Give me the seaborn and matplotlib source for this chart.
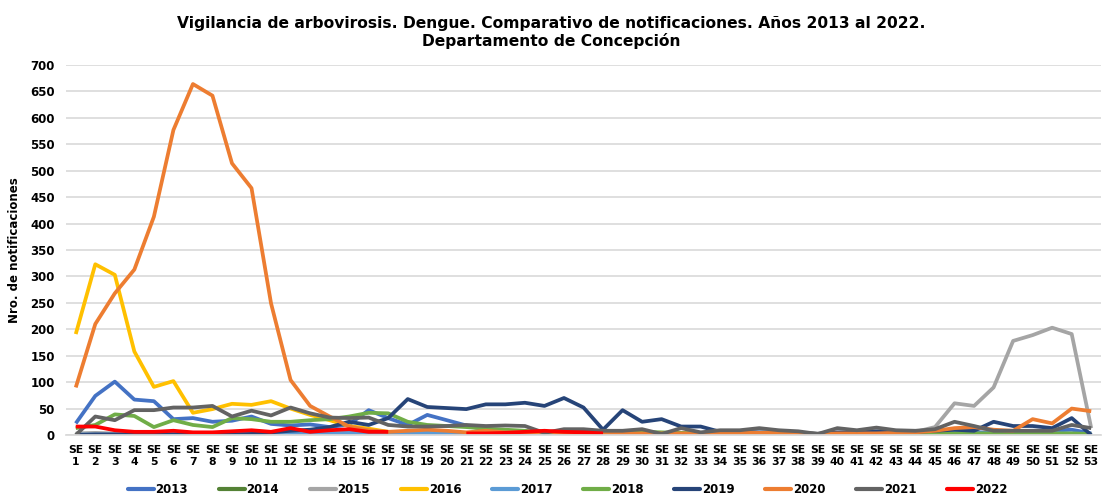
import numpy as np
import pandas as pd
import matplotlib
matplotlib.use("Agg")
import matplotlib.pyplot as plt
from matplotlib.lines import Line2D
import seaborn as sns

nan = np.nan

# epidemiological weeks 1..53
weeks = list(range(1, 54))
week_labels = [f"SE\n{w}" for w in weeks]

y2013 = [22, 74, 101, 67, 64, 30, 32, 25, 27, 35, 21, 18, 20, 15, 20, 47, 32, 19, 38, 28,
         18, 10, 8, 5, 4, 3, 3, 2, 2, 3, 2, 2, 2, 2, 2, 2, 2, 2, 2, 3,
         3, 3, 3, 3, 5, 5, 5, 5, 7, 8, 8, 10, 3]
y2014 = [2, 1, 2, 1, 2, 1, 1, 2, 1, 1, 2, 1, 1, 2, 1, 2, 1, 1, 2, 1,
         1, 1, 2, 1, 1, 1, 1, 1, 1, 2, 1, 1, 1, 1, 1, 1, 1, 1, 1, 1,
         1, 1, 1, 1, 2, 2, 2, 1, 1, 2, 1, 2, 1]
y2015 = [3, 4, 3, 4, 3, 4, 3, 3, 4, 3, 3, 4, 3, 3, 4, 3, 3, 4, 3, 3,
         3, 4, 3, 3, 3, 4, 3, 3, 3, 4, 3, 3, 3, 4, 3, 3, 3, 4, 3, 4,
         4, 5, 5, 6, 15, 60, 55, 90, 178, 189, 203, 191, 13]
y2016 = [191, 323, 303, 158, 91, 102, 42, 49, 59, 57, 64, 50, 38, 28, 17, 12, 6, 5, 8, 5,
         3, 3, 3, 2, 2, 2, 2, 2, 2, 2, 2, 2, 2, 2, 2, 2, 2, 2, 2, 2,
         2, 2, 2, 2, 2, 2, 2, 2, 2, 2, 2, 2, 1]
y2017 = [1, 1, 1, 1, 2, 2, 2, 2, 3, 3, 3, 3, 3, 3, 4, 4, 4, 4, 4, 3,
         3, 3, 3, 2, 2, 2, 2, 2, 2, 2, 2, 2, 2, 2, 2, 2, 2, 2, 2, 2,
         2, 2, 2, 2, 3, 3, 3, 3, 3, 3, 3, 3, 1]
y2018 = [13, 19, 39, 36, 15, 28, 19, 15, 32, 30, 25, 25, 28, 30, 35, 42, 41, 25, 19, 17,
         15, 12, 10, 8, 5, 5, 5, 5, 5, 6, 5, 4, 3, 3, 3, 3, 3, 3, 2, 2,
         2, 2, 2, 2, 3, 3, 3, 3, 3, 3, 3, 3, 2]
y2019 = [0, 1, 1, 1, 1, 1, 1, 1, 1, 2, 5, 8, 10, 15, 25, 19, 32, 68, 53, 51,
         49, 58, 58, 61, 55, 70, 52, 10, 47, 25, 30, 16, 16, 6, 6, 5, 5, 4, 2, 5,
         5, 7, 6, 6, 8, 10, 8, 25, 17, 17, 13, 32, 0]
y2020 = [90, 210, 268, 313, 413, 577, 664, 642, 514, 467, 249, 104, 55, 35, 16, 9, 6, 8, 10, 8,
         5, 8, 5, 5, 5, 4, 4, 3, 3, 3, 3, 3, 3, 3, 4, 4, 4, 3, 2, 3,
         3, 3, 4, 5, 8, 13, 15, 10, 8, 30, 22, 50, 45]
y2021 = [0, 35, 28, 47, 47, 52, 52, 55, 35, 46, 37, 52, 41, 33, 32, 33, 19, 16, 16, 17,
         19, 17, 18, 17, 4, 11, 11, 8, 8, 11, 2, 13, 5, 9, 9, 13, 9, 7, 2, 13,
         9, 14, 9, 8, 11, 25, 17, 8, 8, 8, 8, 19, 13]
y2022 = [16, 16, 9, 6, 6, 8, 5, 5, 7, 9, 6, 13, 6, 9, 11, 6, 6, nan, nan, nan,
         3, 3, 4, 6, 8, 6, 5, 3] + [nan] * 25

years = ["2013", "2014", "2015", "2016", "2017", "2018", "2019", "2020", "2021", "2022"]
series = [y2013, y2014, y2015, y2016, y2017, y2018, y2019, y2020, y2021, y2022]
colors = ["#4472C4", "#548235", "#A5A5A5", "#FFC000", "#5B9BD5",
          "#70AD47", "#264478", "#ED7D31", "#636363", "#FF0000"]

sns.set_theme(style="white")
plt.rcParams['font.family'] = ['DejaVu Sans']
plt.rcParams.update({"text.color": "black", "axes.labelcolor": "black",
                     "xtick.color": "black", "ytick.color": "black"})

fig = plt.figure(figsize=(11.02, 4.96), dpi=100)
ax = fig.add_axes([66 / 1102, 1 - 435 / 496, 1035 / 1102, 370 / 496])

lw = 2.7
for year, vals, col in zip(years, series, colors):
    df = pd.DataFrame({"week": weeks, "n": vals})
    # split into contiguous segments so gaps stay open
    df["seg"] = df["n"].isna().cumsum()
    df = df.dropna()
    for _, part in df.groupby("seg"):
        sns.lineplot(data=part, x="week", y="n", color=col, linewidth=lw, ax=ax,
                     solid_capstyle="butt", legend=False)

ax.set_xlim(0.5, 53.5)
ax.set_ylim(0, 700)
ax.set_yticks(range(0, 701, 50))
ax.set_xticks(weeks)
ax.set_xticklabels(week_labels, fontsize=7.8, fontweight="bold", linespacing=1.3)
ax.tick_params(axis="y", labelsize=8.5, length=4, color="#D9D9D9", pad=4)
ax.tick_params(axis="x", length=0, pad=7)
for lab in ax.get_yticklabels():
    lab.set_fontweight("bold")
ax.grid(axis="y", color="#D9D9D9", linewidth=1.2)
ax.set_axisbelow(True)
for s in ["top", "right", "left"]:
    ax.spines[s].set_visible(False)
ax.spines["bottom"].set_color("#D9D9D9")
ax.set_xlabel("")
ax.set_ylabel("Nro. de notificaciones", fontsize=8.5, fontweight="bold", labelpad=7)

fig.suptitle("Vigilancia de arbovirosis. Dengue. Comparativo de notificaciones. Años 2013 al 2022.\n"
             "Departamento de Concepción", fontsize=11.2, fontweight="bold", y=0.968,
             linespacing=1.15)

handles = [Line2D([0], [0], color=c, linewidth=3) for c in colors]
fig.legend(handles, years, loc="center", bbox_to_anchor=(0.515, 0.013), ncol=10,
           frameon=False, handlelength=2.2, handletextpad=0.15, columnspacing=2.6,
           prop={"weight": "bold", "size": 8.5})

fig.savefig("out.png", dpi=100)
